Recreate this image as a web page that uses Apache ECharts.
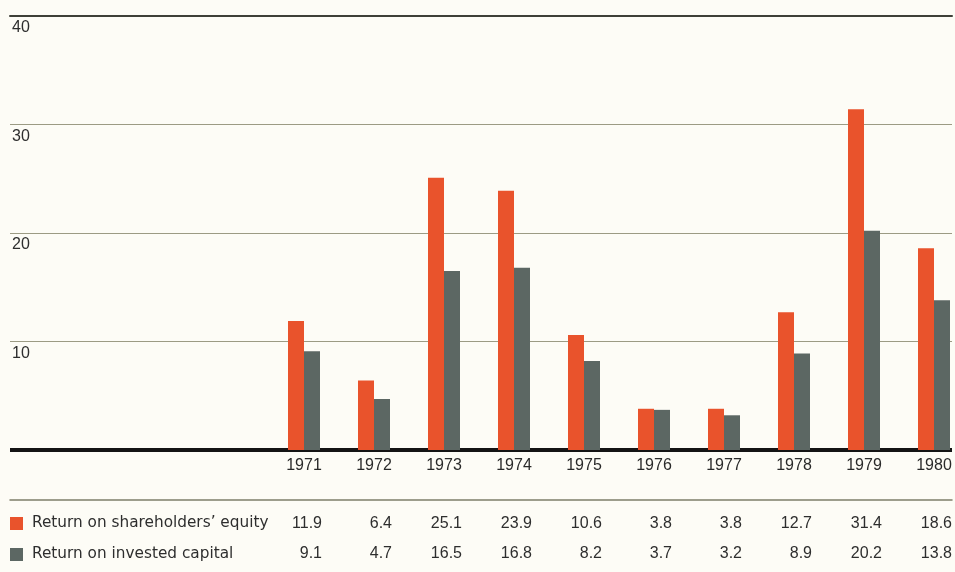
<!DOCTYPE html>
<html>
<head>
<meta charset="utf-8">
<script src="https://cdn.jsdelivr.net/npm/echarts@6/dist/echarts.min.js"></script>
<style>
  html, body { margin: 0; padding: 0; background: #fdfcf6; }
  #chart { width: 955px; height: 572px; }
</style>
</head>
<body>
<div id="chart"></div>
<script>
// Annual returns, 1971-1980 (percent)
var years = [1971, 1972, 1973, 1974, 1975, 1976, 1977, 1978, 1979, 1980];
var equityReturn = [11.9, 6.4, 25.1, 23.9, 10.6, 3.8, 3.8, 12.7, 31.4, 18.6];
var capitalReturn = [9.1, 4.7, 16.5, 16.8, 8.2, 3.7, 3.2, 8.9, 20.2, 13.8];
var seriesNames = ['Return on shareholders\u2019 equity', 'Return on invested capital'];
var yTicks = [10, 20, 30, 40];

var FONT = '"Liberation Sans", Arial, sans-serif';
var WIDE_FONT = '"DejaVu Sans", "Liberation Sans", sans-serif';
var ORANGE = '#e9532c';
var GREY = '#5c6763';

// x scale: one year per 70 px, leaving an empty band on the left
var PX_PER_YEAR = 70;
var X_MIN = 1966.8;
var PLOT_LEFT = 10, PLOT_WIDTH = 942;
var X_MAX = X_MIN + PLOT_WIDTH / PX_PER_YEAR;
// the figures table is right-aligned 18 px to the right of each year's bars,
// on a grid with the same scale that starts 18 px further right
var TABLE_SHIFT_PX = 18;
var TABLE_WIDTH = 926;
var TABLE_MAX = X_MIN + TABLE_WIDTH / PX_PER_YEAR;

function pairs(vals) {
  return years.map(function (y, i) { return [y, vals[i]]; });
}
function tableAxis(vals, offset) {
  return {
    type: 'value', gridIndex: 1, position: 'bottom', offset: offset,
    min: X_MIN, max: TABLE_MAX,
    axisLine: { show: false }, axisTick: { show: false }, splitLine: { show: false },
    axisLabel: {
      customValues: years, margin: 1, align: 'right',
      color: '#2e2e2e', fontSize: 16, fontFamily: FONT,
      formatter: function (v) {
        var i = years.indexOf(Math.round(v));
        return i < 0 ? '' : vals[i].toFixed(1);
      }
    }
  };
}

var chart = echarts.init(document.getElementById('chart'));
chart.setOption({
  backgroundColor: '#fdfcf6',
  animation: false,
  grid: [
    { left: PLOT_LEFT, width: PLOT_WIDTH, top: 16, bottom: 122, containLabel: false },
    { left: PLOT_LEFT + TABLE_SHIFT_PX, width: TABLE_WIDTH, top: 16, bottom: 122, containLabel: false }
  ],
  legend: {
    orient: 'vertical', left: 10, top: 516, padding: 0,
    itemWidth: 13, itemHeight: 13, itemGap: 16,
    icon: 'rect',
    textStyle: { color: '#2e2e2e', fontSize: 15.3, fontFamily: WIDE_FONT, padding: [0, 0, 0, 4] },
    data: seriesNames
  },
  xAxis: [
    {
      type: 'value', gridIndex: 0, min: X_MIN, max: X_MAX, position: 'bottom',
      axisLine: { show: true, onZero: false, lineStyle: { color: '#141414', width: 4, cap: 'butt' } },
      axisTick: { show: false }, splitLine: { show: false },
      axisLabel: {
        customValues: years, margin: 8,
        color: '#2a2a2a', fontSize: 16, fontFamily: FONT,
        formatter: function (v) { return String(Math.round(v)); }
      }
    },
    tableAxis(equityReturn, 65),
    tableAxis(capitalReturn, 95),
    {
      // rule above the figures table
      type: 'value', gridIndex: 0, position: 'bottom', offset: 50, min: X_MIN, max: X_MAX,
      axisLine: { show: true, onZero: false, lineStyle: { color: '#7d7d6a', width: 1.5 } },
      axisTick: { show: false }, axisLabel: { show: false }, splitLine: { show: false }
    },
    {
      // heavy rule across the top of the plot
      type: 'value', gridIndex: 0, position: 'top', min: X_MIN, max: X_MAX,
      axisLine: { show: true, onZero: false, lineStyle: { color: '#3e4038', width: 2 } },
      axisTick: { show: false }, axisLabel: { show: false }, splitLine: { show: false }
    }
  ],
  yAxis: [
    {
      type: 'value', gridIndex: 0, min: 0, max: 40, interval: 10,
      axisLine: { show: false }, axisTick: { show: false },
      splitLine: { show: true, lineStyle: { color: '#9c9b84', width: 1 } },
      axisLabel: {
        inside: true, margin: 2, verticalAlign: 'top', padding: [4, 0, 0, 0],
        color: '#2e2e2e', fontSize: 16, fontFamily: FONT,
        formatter: function (v) { return yTicks.indexOf(v) >= 0 ? String(v) : ''; }
      }
    },
    {
      type: 'value', gridIndex: 1, min: 0, max: 40, show: false
    }
  ],
  series: [
    {
      name: seriesNames[0], type: 'bar', xAxisIndex: 0, yAxisIndex: 0,
      data: pairs(equityReturn),
      barWidth: 16, barGap: '0%', itemStyle: { color: ORANGE }
    },
    {
      name: seriesNames[1], type: 'bar', xAxisIndex: 0, yAxisIndex: 0,
      data: pairs(capitalReturn),
      barWidth: 16, barGap: '0%', itemStyle: { color: GREY }
    }
  ]
});
</script>
</body>
</html>
